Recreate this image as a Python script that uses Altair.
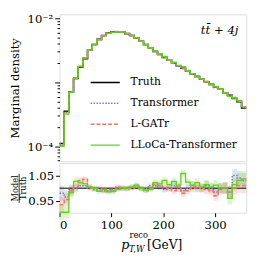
import altair as alt
import pandas as pd

# ---------------- data ----------------
bin_edges = list(range(0, 361, 9))  # 40 bins of 9 GeV
series_names = ["Truth", "Transformer", "L-GATr", "LLoCa-Transformer"]
series_colors = ["#000000", "#7a7db8", "#f07462", "#64d21d"]
series_dash = [[1, 0], [1.5, 1.5], [4, 2], [1, 0]]
series_width = [1.6, 1.4, 1.4, 2.0]

truth_density = [1.11e-4, 3.55e-4, 7.13e-4, 1.15e-3, 1.74e-3, 2.34e-3, 3.16e-3, 3.89e-3,
                 4.68e-3, 5.37e-3, 5.89e-3, 6.10e-3, 6.17e-3, 6.10e-3, 5.75e-3, 5.37e-3,
                 4.90e-3, 4.37e-3, 3.89e-3, 3.47e-3, 3.02e-3, 2.72e-3, 2.45e-3, 2.21e-3,
                 2.00e-3, 1.82e-3, 1.66e-3, 1.50e-3, 1.35e-3, 1.23e-3, 1.12e-3, 1.02e-3,
                 9.3e-4, 8.5e-4, 7.8e-4, 6.9e-4, 6.3e-4, 5.6e-4, 5.0e-4, 4.0e-4]

ratio_transformer = [0.980, 0.965, 0.995, 1.000, 1.010, 1.010, 1.005, 0.995, 1.000, 0.990,
                     0.990, 0.990, 1.000, 1.000, 1.000, 1.005, 1.010, 1.000, 1.000, 1.010,
                     1.010, 1.005, 0.995, 1.000, 1.010, 1.000, 0.990, 1.000, 1.010, 1.000,
                     1.000, 1.010, 1.000, 0.985, 1.000, 1.000, 0.985, 1.050, 1.040, 1.030]
ratio_lgatr = [0.935, 0.955, 0.990, 1.005, 1.030, 1.035, 1.000, 1.000, 0.995, 0.990,
               0.995, 0.995, 1.005, 1.000, 0.998, 1.000, 1.005, 0.998, 0.990, 1.000,
               1.015, 1.010, 1.005, 1.000, 0.990, 1.005, 0.980, 0.990, 1.000, 1.005,
               1.000, 0.995, 0.990, 0.970, 0.995, 1.000, 0.985, 1.000, 1.010, 1.010]
ratio_lloca = [0.905, 0.905, 0.983, 1.027, 1.022, 1.018, 1.005, 0.999, 0.988, 0.996,
               0.986, 0.988, 0.996, 1.001, 0.999, 1.005, 1.012, 0.999, 0.992, 0.996,
               1.022, 1.017, 1.031, 1.014, 1.027, 1.012, 1.058, 1.024, 1.012, 1.022,
               1.005, 1.014, 1.005, 1.012, 1.001, 1.001, 0.960, 1.014, 1.031, 1.037]
band_halfwidth = [0.030, 0.025, 0.020, 0.015, 0.012, 0.010, 0.010, 0.010, 0.010, 0.010,
                  0.010, 0.010, 0.010, 0.010, 0.010, 0.010, 0.010, 0.010, 0.010, 0.010,
                  0.012, 0.012, 0.012, 0.012, 0.014, 0.014, 0.014, 0.014, 0.016, 0.016,
                  0.016, 0.018, 0.018, 0.020, 0.020, 0.022, 0.024, 0.026, 0.028, 0.030]

x_ticks = [0, 100, 200, 300]
ratio_ticks = [0.95, 1.00, 1.05]

FONT = "DejaVu Serif"

# ---------------- tables ----------------
ratios = {"Truth": [1.0] * len(truth_density),
          "Transformer": ratio_transformer,
          "L-GATr": ratio_lgatr,
          "LLoCa-Transformer": ratio_lloca}

main_rows, ratio_rows = [], []
for k, name in enumerate(series_names):
    r = ratios[name]
    n = len(truth_density)
    for i in range(n + 1):
        j = min(i, n - 1)
        main_rows.append({"x": bin_edges[i], "value": truth_density[j] * r[j],
                          "series": name, "order": k})
        if name != "Truth":
            ratio_rows.append({"x": bin_edges[i], "r": r[j],
                               "lo": r[j] - band_halfwidth[j], "hi": r[j] + band_halfwidth[j],
                               "series": name, "order": k})
main_df = pd.DataFrame(main_rows)
ratio_df = pd.DataFrame(ratio_rows)

W = 192
H_MAIN = 151
H_RATIO = 51

xscale = alt.Scale(domain=[0, 360], nice=False, zero=False)
color_scale = alt.Scale(domain=series_names, range=series_colors)
dash_scale = alt.Scale(domain=series_names, range=series_dash)
width_scale = alt.Scale(domain=series_names, range=series_width)
legend = alt.Legend(orient="none", legendX=31, legendY=54, title=None,
                    symbolType="stroke", symbolSize=900, symbolStrokeWidth=2,
                    labelFont=FONT, labelFontSize=11, labelColor="#000",
                    rowPadding=0.5, labelOffset=10)

ydom_main = [10 ** -4.23, 10 ** -1.94]

main_lines = alt.Chart(main_df).mark_line(interpolate="step-after").encode(
    x=alt.X("x:Q", scale=xscale,
            axis=alt.Axis(values=x_ticks, labels=False, ticks=False, domain=False, grid=False, title=None)),
    y=alt.Y("value:Q", scale=alt.Scale(type="log", domain=ydom_main, nice=False),
            axis=alt.Axis(values=[1e-4, 1e-3, 1e-2], tickSize=5, tickColor="#000", domain=False,
                          grid=False, labelFont=FONT, labelFontSize=12, labelColor="#000",
                          labelExpr="datum.value > 0.009 ? '10⁻²' : (datum.value < 0.00011 ? '10⁻⁴' : '')",
                          title="Marginal density", titleFont=FONT, titleFontSize=12,
                          titleFontWeight="normal", titleColor="#000", titlePadding=6,
                          orient="left")),
    color=alt.Color("series:N", scale=color_scale, legend=legend),
    strokeDash=alt.StrokeDash("series:N", scale=dash_scale, legend=legend),
    strokeWidth=alt.StrokeWidth("series:N", scale=width_scale, legend=None),
    order=alt.Order("order:Q"),
)

minor_vals = [m * 10 ** e for e in (-5, -4, -3) for m in range(2, 10)]
minor_axis_layer = alt.Chart(main_df).mark_line(opacity=0).encode(
    x=alt.X("x:Q", scale=xscale),
    y=alt.Y("value:Q", scale=alt.Scale(type="log", domain=ydom_main, nice=False),
            axis=alt.Axis(values=minor_vals, tickSize=2.5, tickColor="#000", labels=False,
                          domain=False, grid=False, title=None, orient="left")),
)

label_text = alt.Chart(pd.DataFrame({"t": ["tt\u0304 + 4j"]})).mark_text(
    font=FONT, fontSize=12, fontStyle="italic", align="right", baseline="alphabetic", color="#000"
).encode(x=alt.value(184), y=alt.value(20), text="t:N")

main = alt.layer(minor_axis_layer, main_lines, label_text).resolve_axis(y="independent").properties(
    width=W, height=H_MAIN)

# ratio panel
ratio_scale = alt.Scale(domain=[0.903, 1.099], nice=False, zero=False)
bands = alt.Chart(ratio_df).mark_area(interpolate="step-after", opacity=0.22).encode(
    x=alt.X("x:Q", scale=xscale,
            axis=alt.Axis(values=x_ticks, tickSize=4, tickColor="#000", domain=False, grid=False,
                          labelFont=FONT, labelFontSize=12, labelColor="#000", title=None, labelPadding=3)),
    y=alt.Y("lo:Q", scale=ratio_scale,
            axis=alt.Axis(values=ratio_ticks, format=".2f", tickSize=4, tickColor="#000", domain=False,
                          grid=False, labelFont=FONT, labelFontSize=12, labelColor="#000", title=None)),
    y2="hi:Q",
    color=alt.Color("series:N", scale=color_scale, legend=None),
    detail="series:N",
)
unity = alt.Chart(pd.DataFrame({"v": [1.0]})).mark_rule(color="#000", strokeWidth=1).encode(
    y=alt.Y("v:Q", scale=ratio_scale))
ratio_lines = alt.Chart(ratio_df).mark_line(interpolate="step-after").encode(
    x=alt.X("x:Q", scale=xscale),
    y=alt.Y("r:Q", scale=ratio_scale),
    color=alt.Color("series:N", scale=color_scale, legend=None),
    strokeDash=alt.StrokeDash("series:N", scale=dash_scale, legend=None),
    strokeWidth=alt.StrokeWidth("series:N", scale=width_scale, legend=None),
    order=alt.Order("order:Q"),
)

one = pd.DataFrame({"a": [0]})
def txt(s, x, y, size, style="normal", angle=0, align="left"):
    return alt.Chart(one).mark_text(text=s, font=FONT, fontSize=size, fontStyle=style, angle=angle,
                                    align=align, baseline="alphabetic", color="#000").encode(
        x=alt.value(x), y=alt.value(y))

xt_p = txt("p", 63.5, 88, 13, "italic")
xt_sub = txt("T,W", 71.5, 91.5, 8.5, "italic")
xt_sup = txt("reco", 72, 77, 8.5)
xt_gev = txt("[GeV]", 90, 88, 12.5)
yt_model = txt("Model", -43, 26, 8.5, angle=270, align="center")
yt_truth = txt("Truth", -34.5, 26, 8.5, angle=270, align="center")
frac_bar = alt.Chart(one).mark_rule(color="#000", strokeWidth=0.8).encode(
    x=alt.value(-41.5), y=alt.value(11), y2=alt.value(41))

ratio = alt.layer(bands, unity, ratio_lines, xt_p, xt_sub, xt_sup, xt_gev,
                  yt_model, yt_truth, frac_bar).properties(width=W, height=H_RATIO)

chart = alt.vconcat(main, ratio, spacing=0).resolve_scale(
    x="shared"
).configure_view(stroke="#333", strokeWidth=1.2).configure(
    padding={"left": 0, "top": 0, "right": 4, "bottom": 0}
)

chart.save("out.html", embed_options={"renderer": "svg", "actions": False})
